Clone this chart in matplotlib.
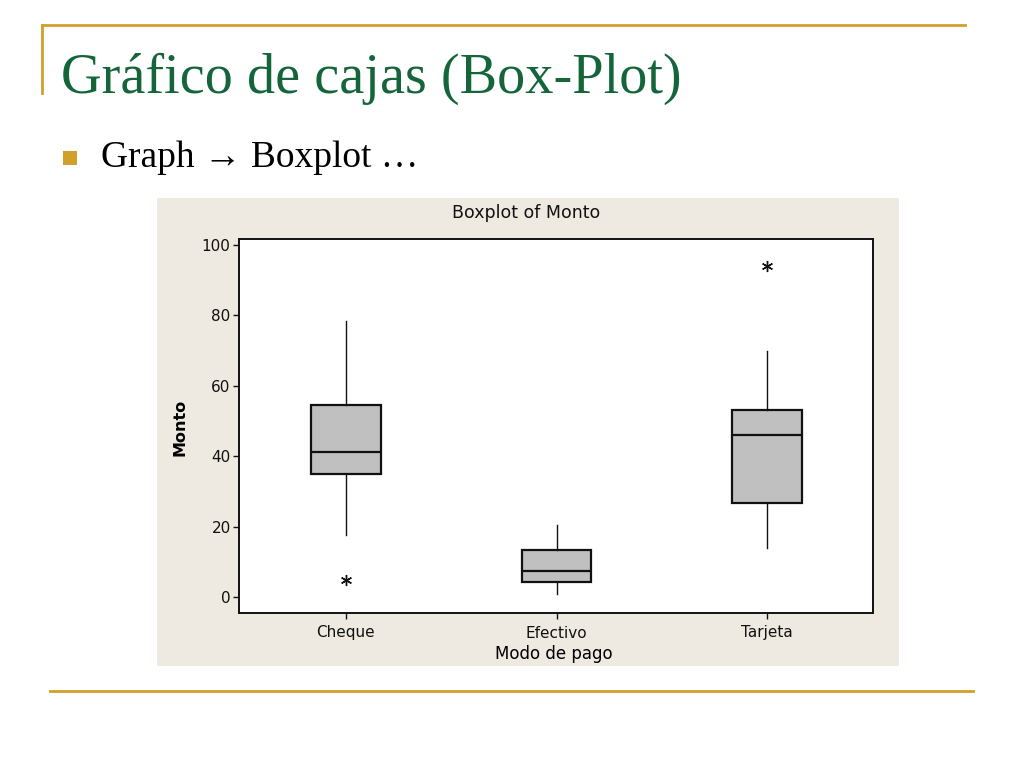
import matplotlib
matplotlib.use("Agg")
import matplotlib.pyplot as plt
from matplotlib.patches import Rectangle
from matplotlib.lines import Line2D

# ---- data ----
categories = ["Cheque", "Efectivo", "Tarjeta"]
whisker_low = [17.6, 1.0, 14.1]
q1 = [34.9, 4.4, 26.7]
median = [41.3, 7.5, 46.1]
q3 = [54.6, 13.5, 53.2]
whisker_high = [78.4, 20.4, 69.9]
outliers = [[4.8], [], [94.1]]
y_ticks = [0, 20, 40, 60, 80, 100]

GOLD = "#D0A02A"
GREEN = "#14663A"
PANEL = "#EEEAE1"
SANS = ["DejaVu Sans"]
SERIF = ["Liberation Serif", "DejaVu Serif"]

fig = plt.figure(figsize=(10.24, 7.68), dpi=100)
fig.patch.set_facecolor("white")

# background layer in pixel coordinates for slide decorations
bg = fig.add_axes([0, 0, 1, 1])
bg.set_xlim(0, 1024)
bg.set_ylim(768, 0)
bg.axis("off")
bg.add_line(Line2D([42, 965], [25, 25], color=GOLD, lw=2))
bg.add_line(Line2D([42, 42], [25, 93], color=GOLD, lw=2))
bg.add_line(Line2D([50, 973], [690.5, 690.5], color=GOLD, lw=2))
bg.text(61, 93, "Gráfico de cajas (Box-Plot)", color=GREEN, fontsize=40.5,
        family=SERIF, va="baseline", ha="left")
bg.add_patch(Rectangle((63, 151), 14, 14, color=GOLD, lw=0))
bg.text(101, 167, "Graph → Boxplot …", color="black", fontsize=27,
        family=SERIF, va="baseline", ha="left")
bg.add_patch(Rectangle((157, 198), 742, 468, color=PANEL, lw=0))
bg.text(526, 213, "Boxplot of Monto", fontsize=12.5, family=SANS,
        ha="center", va="center", color="#111111")

# chart axes
ax = fig.add_axes([239 / 1024, 1 - 613 / 768, (873 - 239) / 1024, (613 - 239) / 768])
ax.set_facecolor("white")

stats = []
for i, c in enumerate(categories):
    stats.append(dict(label=c, whislo=whisker_low[i], q1=q1[i], med=median[i],
                      q3=q3[i], whishi=whisker_high[i], fliers=outliers[i]))

positions = list(range(1, len(categories) + 1))
ax.bxp(stats, positions=positions, widths=0.33, patch_artist=True,
       showcaps=False,
       boxprops=dict(facecolor="#C0C0C0", edgecolor="#111111", linewidth=1.6),
       medianprops=dict(color="#111111", linewidth=1.6),
       whiskerprops=dict(color="#111111", linewidth=1.0),
       flierprops=dict(marker=(6, 2, 0), markersize=8, markeredgecolor="#111111",
                       markerfacecolor="none", markeredgewidth=1.0, linestyle="none"))

ax.set_xlim(0.493, 3.502)
ax.set_ylim(-4.46, 101.7)
ax.set_yticks(y_ticks)
ax.set_yticklabels([str(t) for t in y_ticks], family=SANS, fontsize=11)
ax.set_xticks(positions)
ax.set_xticklabels(categories, family=SANS, fontsize=11)
ax.tick_params(direction="out", length=4, width=1, colors="#111111")
ax.tick_params(axis="x", pad=5)
ax.tick_params(axis="y", pad=2)
for s in ax.spines.values():
    s.set_linewidth(1.4)
    s.set_color("#111111")

ax.set_ylabel("Monto", family=SANS, fontsize=11.5, fontweight="bold")
ax.yaxis.set_label_coords(-0.082, 0.495)
ax.set_xlabel("Modo de pago", family=SANS, fontsize=12)
ax.xaxis.set_label_coords(0.497, -0.086)

fig.savefig("out.png", dpi=100, facecolor="white")
